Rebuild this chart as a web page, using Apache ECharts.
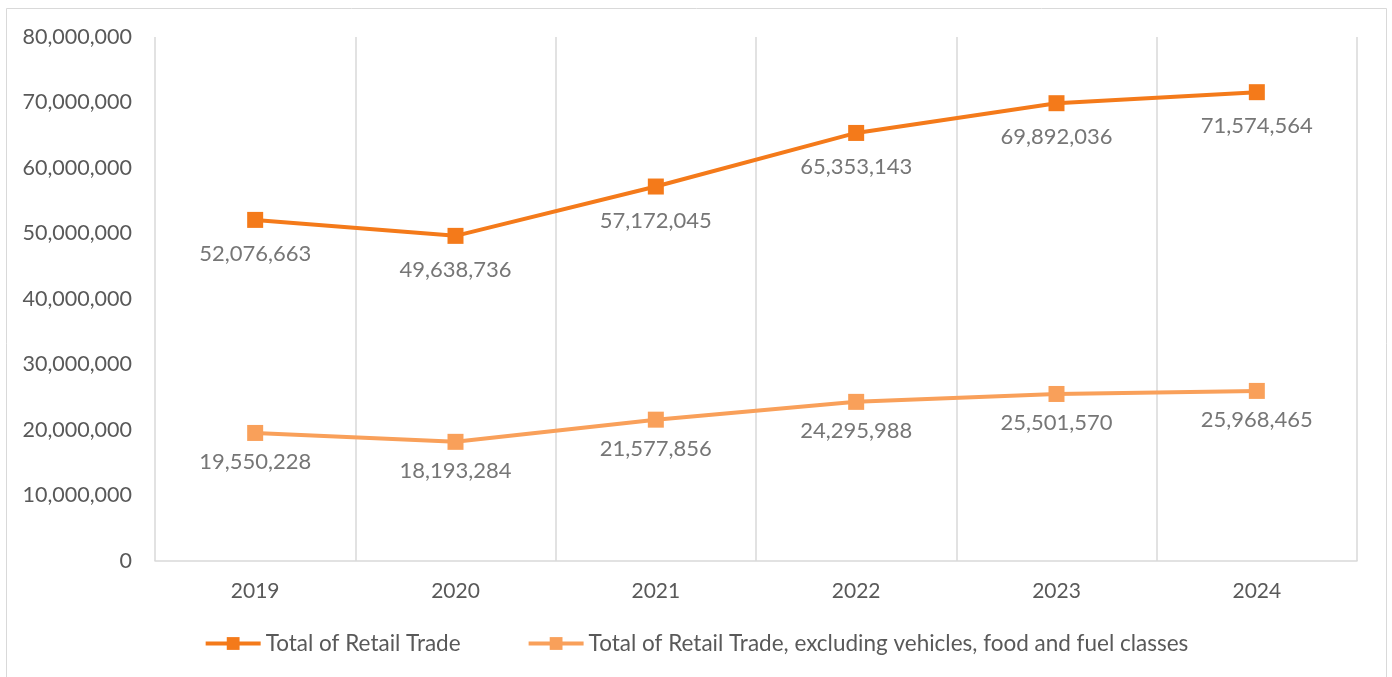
<!DOCTYPE html>
<html style="height: 100%">
<head>
<meta charset="utf-8">
<script src="https://cdn.jsdelivr.net/npm/echarts@6/dist/echarts.min.js"></script>
</head>
<body style="height: 100%; margin: 0; background: #fff">
<div id="container" style="width: 1392px; height: 677px"></div>
<script type="text/javascript">
var years = ['2019', '2020', '2021', '2022', '2023', '2024'];
var totalRetail = [52076663, 49638736, 57172045, 65353143, 69892036, 71574564];
var totalExcl = [19550228, 18193284, 21577856, 24295988, 25501570, 25968465];
var seriesNames = [
    'Total of Retail Trade',
    'Total of Retail Trade, excluding vehicles, food and fuel classes'
];

var FONT = 'Lato, "Open Sans", sans-serif';

function fmt(v) {
    return v.toLocaleString('en-US');
}

function makeSeries(name, data, color, dist) {
    return {
        name: name,
        type: 'line',
        data: data,
        symbol: 'rect',
        symbolSize: 16,
        itemStyle: { color: color },
        lineStyle: { color: color, width: 4 },
        label: {
            show: true,
            position: 'bottom',
            distance: dist,
            color: '#767676',
            fontFamily: FONT,
            fontSize: 22,
            formatter: function (p) { return fmt(p.value); }
        }
    };
}

var chart = echarts.init(document.getElementById('container'));
var option = {
    animation: false,
    backgroundColor: '#fff',
    graphic: [{
        type: 'rect',
        shape: { x: 6.5, y: 8.5, width: 1380, height: 700 },
        style: { fill: 'none', stroke: '#d9d9d9', lineWidth: 1 },
        silent: true
    }],
    grid: { left: 155, right: 35, top: 37, bottom: 116 },
    legend: {
        bottom: 17,
        left: 'center',
        itemWidth: 55,
        itemHeight: 16,
        itemGap: 66,
        lineStyle: { width: 4 },
        textStyle: { color: '#595959', fontFamily: FONT, fontSize: 22.5 },
        data: seriesNames
    },
    xAxis: {
        type: 'category',
        data: years,
        boundaryGap: true,
        axisLine: { lineStyle: { color: '#d9d9d9', width: 1.5 } },
        axisTick: { show: false },
        axisLabel: { color: '#595959', fontFamily: FONT, fontSize: 21, margin: 20 },
        splitLine: { show: true, lineStyle: { color: '#d9d9d9', width: 1.5 } }
    },
    yAxis: {
        type: 'value',
        min: 0,
        max: 80000000,
        interval: 10000000,
        axisLine: { show: false },
        axisTick: { show: false },
        splitLine: { show: false },
        axisLabel: {
            color: '#595959',
            fontFamily: FONT,
            fontSize: 21.5,
            margin: 23,
            formatter: function (v) { return fmt(v); }
        }
    },
    series: [
        makeSeries(seriesNames[0], totalRetail, '#f47a1a', 15),
        makeSeries(seriesNames[1], totalExcl, '#f9a05a', 10)
    ]
};
chart.setOption(option);
</script>
</body>
</html>
